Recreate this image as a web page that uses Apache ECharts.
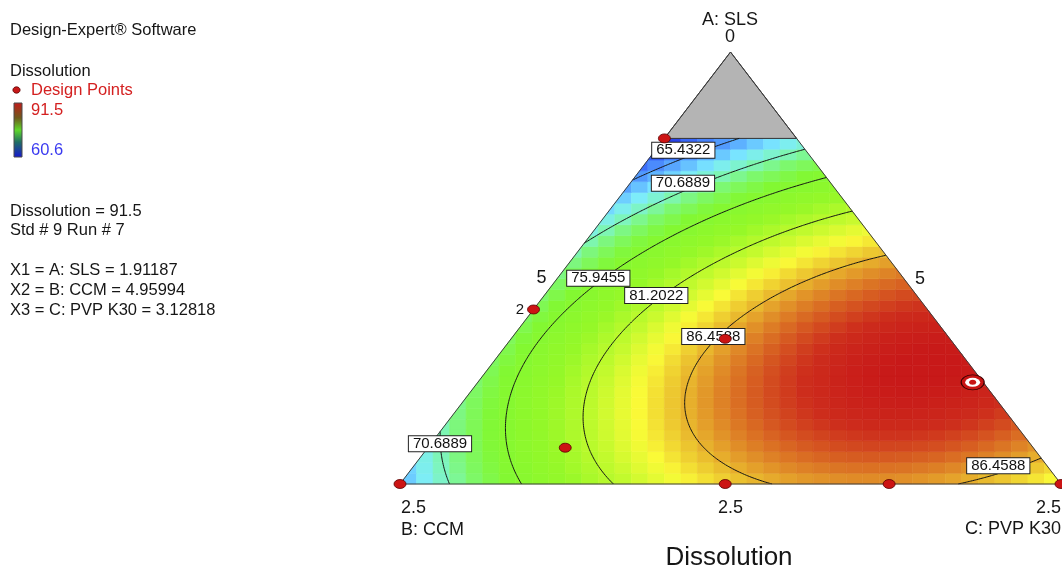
<!DOCTYPE html>
<html>
<head>
<meta charset="utf-8">
<script src="https://cdn.jsdelivr.net/npm/echarts@6/dist/echarts.min.js"></script>
<style>
  html, body { margin: 0; padding: 0; background: #ffffff; }
  #chart { width: 1062px; height: 570px; }
</style>
</head>
<body>
<div id="chart"></div>
<script>
// ---------------------------------------------------------------------------
// Mixture design: A: SLS, B: CCM, C: PVP K30 (total = 10).
// Each component is shown on an inverted scale: its vertex carries its
// lowest value, the opposite side its highest value.
// ---------------------------------------------------------------------------
const componentNames = ['A: SLS', 'B: CCM', 'C: PVP K30'];
const vertexValues   = [0, 2.5, 2.5];   // component value at its own vertex
const sideValues     = [2.5, 5, 5];     // component value on the opposite side
const minSLS         = 0.5;             // A below this is excluded (grey)

// Fitted quadratic mixture model for Dissolution (pseudo components)
const modelTerms = ['A', 'B', 'C', 'AB', 'AC', 'BC'];
const modelCoefs = [46.7, 66.5, 83.6, 61.7, 89.9, 42.0];

const responseName  = 'Dissolution';
const responseRange = [60.6, 91.5];
const contourLevels = [65.4322, 70.6889, 75.9455, 81.2022, 86.4588];

// Design runs (actual units)
const runA    = [0.5, 1.49, 2.29, 1.66, 2.5, 2.5, 2.5, 2.5, 1.91187];
const runB    = [4.5, 3.51, 3.23, 4.15, 2.5, 3.73, 4.35, 5.0, 4.95994];
const runC    = [5.0, 5.0, 4.48, 4.19, 5.0, 3.77, 3.15, 2.5, 3.12818];
const runReps = [1, 2, 1, 1, 1, 1, 1, 1, 1];

// Highlighted run
const selectedValues   = [1.91187, 4.95994, 3.12818];
const selectedResponse = 91.5;
const selectedStd      = 9;
const selectedRunNo    = 7;

// ---------------------------------------------------------------------------
// Helpers
// ---------------------------------------------------------------------------
const FONT = '"Liberation Sans", Arial, Helvetica, sans-serif';

// actual value -> pseudo weight (1 at the component's vertex)
function pseudo(idx, x) {
  return (sideValues[idx] - x) / (sideValues[idx] - vertexValues[idx]);
}
// pseudo weights -> plane coordinates (B at x=0, C at x=1, A at apex)
function toXY(wA, wB, wC) { return [wC + wA / 2, wA]; }

function model(wA, wB, wC) {
  const t = [wA, wB, wC, wA * wB, wA * wC, wB * wC];
  let s = 0;
  for (let i = 0; i < t.length; i++) s += modelCoefs[i] * t[i];
  return s;
}

const wAmax = pseudo(0, minSLS);   // upper edge of the feasible region

// Colour ramp used by the surface
const colourStops = [
  [60.6, [20, 20, 210]], [63.5, [60, 110, 250]], [66.5, [95, 180, 255]],
  [68.5, [125, 235, 255]], [70.5, [125, 245, 190]], [72.5, [125, 248, 110]],
  [75.0, [130, 248, 50]], [79.0, [150, 248, 40]], [82.0, [195, 250, 45]],
  [84.3, [250, 250, 55]], [86.5, [232, 180, 45]], [88.5, [218, 110, 35]],
  [90.3, [205, 45, 28]], [91.5, [200, 25, 25]]
];
function colourOf(v) {
  if (v <= colourStops[0][0]) return 'rgb(' + colourStops[0][1].join(',') + ')';
  for (let i = 1; i < colourStops.length; i++) {
    if (v <= colourStops[i][0]) {
      const [v0, c0] = colourStops[i - 1], [v1, c1] = colourStops[i];
      const t = (v - v0) / (v1 - v0);
      const c = c0.map((a, k) => Math.round(a + t * (c1[k] - a)));
      return 'rgb(' + c.join(',') + ')';
    }
  }
  return 'rgb(' + colourStops[colourStops.length - 1][1].join(',') + ')';
}

// Clip a polygon (plane coords) to the feasible triangle
const clipPlanes = [
  p => p[1],                    // bottom edge (wA >= 0)
  p => wAmax - p[1],            // SLS constraint
  p => p[0] - p[1] / 2,         // left edge (wC >= 0)
  p => 1 - p[1] / 2 - p[0]      // right edge (wB >= 0)
];
function clipPoly(poly) {
  let out = poly;
  for (const f of clipPlanes) {
    const inp = out; out = [];
    for (let i = 0; i < inp.length; i++) {
      const a = inp[i], b = inp[(i + 1) % inp.length];
      const fa = f(a), fb = f(b);
      if (fa >= 0) out.push(a);
      if ((fa >= 0) !== (fb >= 0)) {
        const t = fa / (fa - fb);
        out.push([a[0] + t * (b[0] - a[0]), a[1] + t * (b[1] - a[1])]);
      }
    }
    if (out.length < 3) return [];
  }
  return out;
}

// ---------------------------------------------------------------------------
// Surface cells (40 x 40 grid over the plot box)
// ---------------------------------------------------------------------------
const NC = 40;
const cells = [];
for (let r = 0; r < NC; r++) {
  for (let c = 0; c < NC; c++) {
    const x0 = c / NC, x1 = (c + 1) / NC, y0 = r / NC, y1 = (r + 1) / NC;
    if (clipPoly([[x0, y0], [x1, y0], [x1, y1], [x0, y1]]).length < 3) continue;
    const xc = (x0 + x1) / 2, yc = (y0 + y1) / 2;
    const wA = yc, wC = xc - yc / 2, wB = 1 - wA - wC;
    cells.push([xc, yc, model(wA, wB, wC)]);
  }
}

// ---------------------------------------------------------------------------
// Contours: marching triangles on a barycentric lattice
// ---------------------------------------------------------------------------
const N = 200;
const iMax = Math.round(wAmax * N);
const lid = (i, k) => i * (N + 1) + k;
const latticeVals = new Float64Array((N + 1) * (N + 1));
for (let i = 0; i <= N; i++) {
  for (let k = 0; k <= N - i; k++) {
    const wA = i / N, wC = k / N;
    latticeVals[lid(i, k)] = model(wA, 1 - wA - wC, wC);
  }
}

function traceLevel(L) {
  const pts = new Map(), adj = new Map();
  function ep(a, b) {
    const ia = lid(a[0], a[1]), ib = lid(b[0], b[1]);
    const key = ia < ib ? ia * 100000 + ib : ib * 100000 + ia;
    if (!pts.has(key)) {
      const fa = latticeVals[ia], fb = latticeVals[ib];
      const t = (L - fa) / (fb - fa);
      const wA = (a[0] + t * (b[0] - a[0])) / N;
      const wC = (a[1] + t * (b[1] - a[1])) / N;
      pts.set(key, toXY(wA, 1 - wA - wC, wC));
    }
    return key;
  }
  function link(p, q) {
    if (!adj.has(p)) adj.set(p, []);
    if (!adj.has(q)) adj.set(q, []);
    adj.get(p).push(q); adj.get(q).push(p);
  }
  function tri(a, b, c) {
    const sa = latticeVals[lid(a[0], a[1])] >= L;
    const sb = latticeVals[lid(b[0], b[1])] >= L;
    const sc = latticeVals[lid(c[0], c[1])] >= L;
    if (sa === sb && sb === sc) return;
    const e = [];
    if (sa !== sb) e.push(ep(a, b));
    if (sb !== sc) e.push(ep(b, c));
    if (sc !== sa) e.push(ep(c, a));
    link(e[0], e[1]);
  }
  for (let i = 0; i < iMax; i++) {
    for (let k = 0; k <= N - i - 1; k++) {
      tri([i, k], [i + 1, k], [i, k + 1]);
      if (k <= N - i - 2) tri([i + 1, k], [i + 1, k + 1], [i, k + 1]);
    }
  }
  const seen = new Set(), paths = [];
  const walk = s => {
    const p = [s]; seen.add(s); let cur = s;
    for (;;) {
      const nx = adj.get(cur).find(n => !seen.has(n));
      if (nx === undefined) break;
      seen.add(nx); p.push(nx); cur = nx;
    }
    return p;
  };
  for (const [k, nb] of adj) if (nb.length === 1 && !seen.has(k)) paths.push(walk(k));
  for (const k of adj.keys()) if (!seen.has(k)) { const p = walk(k); p.push(p[0]); paths.push(p); }
  return paths.map(p => p.map(k => pts.get(k)));
}

const contourPaths = contourLevels.map(traceLevel);
const contourData = [];
contourPaths.forEach(paths => paths.forEach(p => contourData.push({ coords: p })));

// Where each contour label sits (plane coords), by level index
const labelAnchors = [
  [0, 0.4286, 0.7727], [1, 0.4281, 0.6961], [2, 0.3000, 0.4764],
  [3, 0.3877, 0.4363], [4, 0.4740, 0.3414], [1, 0.0605, 0.0931],
  [4, 0.9051, 0.0421]
];
const labelData = labelAnchors.map(([li, x, y]) => [x, y, contourLevels[li]]);

// Design points in plane coords
const runPoints = runA.map((a, i) => {
  const xy = toXY(pseudo(0, a), pseudo(1, runB[i]), pseudo(2, runC[i]));
  return [xy[0], xy[1], runReps[i]];
});
const selXY = toXY(pseudo(0, selectedValues[0]), pseudo(1, selectedValues[1]), pseudo(2, selectedValues[2]));

// ---------------------------------------------------------------------------
// Chart
// ---------------------------------------------------------------------------
const chart = echarts.init(document.getElementById('chart'), null, { renderer: 'canvas' });

function txt(text, x, y, size, fill, align) {
  return {
    type: 'text', silent: true, z: 100,
    style: {
      text: text, x: x, y: y, fill: fill || '#161616',
      font: size + 'px ' + FONT,
      textAlign: align || 'left', align: align || 'left',
      textVerticalAlign: 'middle', verticalAlign: 'middle'
    }
  };
}

const graphics = [
  txt('Design-Expert\u00AE Software', 10, 30, 16.5),
  txt(responseName, 10, 71, 16.5),
  { type: 'ellipse', silent: true, z: 100,
    shape: { cx: 16.5, cy: 90, rx: 3.6, ry: 3.2 },
    style: { fill: '#c81818', stroke: '#5a0000', lineWidth: 0.8 } },
  txt('Design Points', 31, 90, 16.5, '#d42020'),
  { type: 'rect', silent: true, z: 100,
    shape: { x: 14, y: 103, width: 8, height: 54 },
    style: {
      fill: new echarts.graphic.LinearGradient(0, 0, 0, 1, [
        { offset: 0, color: '#c41a1a' }, { offset: 0.28, color: '#6e5a1c' },
        { offset: 0.5, color: '#5fd82a' }, { offset: 0.72, color: '#1f6e64' },
        { offset: 1, color: '#1616d2' }
      ]),
      stroke: '#4a4a4a', lineWidth: 1
    } },
  txt(String(responseRange[1]), 31, 110, 16.5, '#d42020'),
  txt(String(responseRange[0]), 31, 150, 16.5, '#3a3af0'),
  txt(responseName + ' = ' + selectedResponse, 10, 211, 16.5),
  txt('Std # ' + selectedStd + ' Run # ' + selectedRunNo, 10, 230, 16.5),
  txt('X1 = ' + componentNames[0] + ' = ' + selectedValues[0], 10, 270, 16.5),
  txt('X2 = ' + componentNames[1] + ' = ' + selectedValues[1], 10, 290, 16.5),
  txt('X3 = ' + componentNames[2] + ' = ' + selectedValues[2], 10, 310, 16.5),

  // vertex and side values of the ternary frame
  txt(componentNames[0], 730, 20, 18, '#161616', 'center'),
  txt(String(vertexValues[0]), 730, 37, 18, '#161616', 'center'),
  txt(String(vertexValues[1]), 401, 508, 18),
  txt(componentNames[1], 401, 530, 18),
  txt(String(sideValues[0]), 730.5, 508, 18, '#161616', 'center'),
  txt(String(vertexValues[2]), 1061, 508, 18, '#161616', 'right'),
  txt(componentNames[2], 1061, 529, 18, '#161616', 'right'),
  txt(String(sideValues[2]), 541.5, 278, 18, '#161616', 'center'),
  txt(String(sideValues[1]), 920, 279, 18, '#161616', 'center'),
  txt(responseName, 729, 558, 26, '#161616', 'center')
];

const option = {
  animation: false,
  backgroundColor: '#ffffff',
  grid: { left: 400, top: 52, width: 661, height: 432, containLabel: false },
  xAxis: { type: 'value', min: 0, max: 1, show: false },
  yAxis: { type: 'value', min: 0, max: 1, show: false },
  graphic: graphics,
  series: [
    {
      type: 'custom', name: 'surface', coordinateSystem: 'cartesian2d',
      silent: true, z: 1, data: cells,
      renderItem: (params, api) => {
        const xc = api.value(0), yc = api.value(1), v = api.value(2);
        const h = 0.5 / NC;
        const poly = clipPoly([[xc - h, yc - h], [xc + h, yc - h], [xc + h, yc + h], [xc - h, yc + h]]);
        if (poly.length < 3) return null;
        const col = colourOf(v);
        return {
          type: 'polygon',
          shape: { points: poly.map(p => api.coord(p)) },
          style: { fill: col, stroke: col, lineWidth: 0.6 }
        };
      }
    },
    {
      type: 'custom', name: 'excluded', coordinateSystem: 'cartesian2d',
      silent: true, z: 2, data: [[0, 0]],
      renderItem: (params, api) => ({
        type: 'polygon',
        shape: { points: [toXY(1, 0, 0), toXY(wAmax, 1 - wAmax, 0), toXY(wAmax, 0, 1 - wAmax)].map(p => api.coord(p)) },
        style: { fill: '#b4b4b4', stroke: '#333333', lineWidth: 1 }
      })
    },
    {
      type: 'lines', name: 'contours', coordinateSystem: 'cartesian2d',
      polyline: true, silent: true, z: 3, data: contourData,
      lineStyle: { color: '#141414', width: 1, opacity: 1 }
    },
    {
      type: 'custom', name: 'frame', coordinateSystem: 'cartesian2d',
      silent: true, z: 4, data: [[0, 0]],
      renderItem: (params, api) => ({
        type: 'polygon',
        shape: { points: [toXY(0, 1, 0), toXY(0, 0, 1), toXY(1, 0, 0)].map(p => api.coord(p)) },
        style: { fill: 'none', stroke: '#3c3c3c', lineWidth: 1 }
      })
    },
    {
      type: 'scatter', name: 'contour labels', silent: true, z: 5,
      data: labelData, symbolSize: 0,
      itemStyle: { color: 'transparent', opacity: 1 },
      label: {
        show: true, position: 'inside', opacity: 1,
        formatter: p => p.value[2].toFixed(4),
        fontFamily: FONT, fontSize: 15, color: '#111111',
        backgroundColor: '#ffffff', borderColor: '#222222', borderWidth: 1,
        padding: [1, 4, 0, 4], lineHeight: 14
      }
    },
    {
      type: 'scatter', name: 'Design Points', silent: true, z: 6,
      data: runPoints, symbol: 'circle', symbolSize: [12, 9],
      itemStyle: { color: '#cc1414', borderColor: '#5a0000', borderWidth: 0.8, opacity: 1 },
      label: {
        show: true, position: 'left', distance: 3,
        formatter: p => (p.value[2] > 1 ? String(p.value[2]) : ''),
        fontFamily: FONT, fontSize: 15, color: '#161616'
      }
    },
    {
      type: 'scatter', name: 'selected ring', silent: true, z: 7,
      data: [selXY], symbol: 'circle', symbolSize: [23, 15],
      itemStyle: { color: '#c81414', borderColor: '#3a0000', borderWidth: 1, opacity: 1 }
    },
    {
      type: 'scatter', name: 'selected inner', silent: true, z: 8,
      data: [selXY], symbol: 'circle', symbolSize: [15, 9],
      itemStyle: { color: '#ffffff', opacity: 1 }
    },
    {
      type: 'scatter', name: 'selected dot', silent: true, z: 9,
      data: [selXY], symbol: 'circle', symbolSize: [7, 5],
      itemStyle: { color: '#c81414', opacity: 1 }
    }
  ]
};

chart.setOption(option);
</script>
</body>
</html>
